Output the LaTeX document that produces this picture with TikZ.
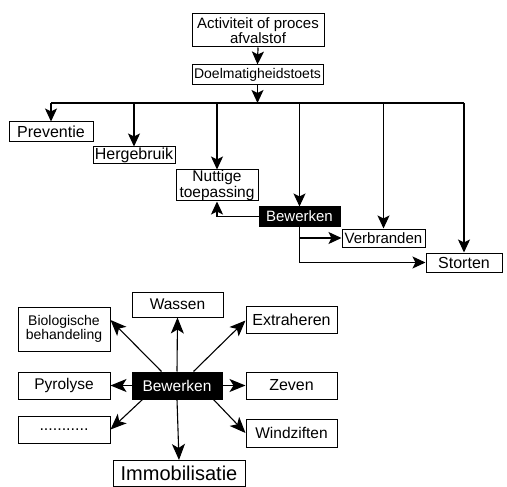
\documentclass[tikz,border=0pt]{standalone}
\usepackage{fontspec}
\setmainfont{Liberation Sans}
\usetikzlibrary{arrows.meta,calc}
\begin{document}
\begin{tikzpicture}[x=1pt,y=-1pt,
  box/.style={draw,line width=1pt,inner sep=0pt,align=center,minimum width=#1},
  dark/.style={fill=black,text=white},
  arr/.style={line width=1.2pt,-{Stealth[length=13pt,width=12pt,inset=3pt]}},
  arrb/.style={line width=1.1pt,-{Stealth[length=16pt,width=13pt,inset=4pt]}},
  ln/.style={line width=1.2pt},
  fs/.style={font=\fontsize{#1}{#1}\selectfont}]
\useasboundingbox (0,0) rectangle (507,487);
% top flow
\node[box=132,minimum height=33,fs=15] (act) at (258,30.5) {Activiteit of proces\\afvalstof};
\node[box=131,minimum height=20,fs=14] (doel) at (257.5,75) {Doelmatigheidstoets};
\node[box=84,minimum height=20,fs=16] (prev) at (51,132) {Preventie};
\node[box=82,minimum height=17,fs=16] (herg) at (134,155.5) {Hergebruik};
\node[box=82,minimum height=31,fs=15.5] (nut) at (217,185.5) {Nuttige\\toepassing};
\node[box=81,minimum height=19,fs=15,dark] (bew1) at (299.5,216.5) {Bewerken};
\node[box=83,minimum height=18,fs=15] (verb) at (383.5,238) {Verbranden};
\node[box=76,minimum height=19,fs=16] (stort) at (464,262.5) {Storten};
\coordinate (bus) at (258,103);
\draw[arr] (act.south) -- (doel.north);
\draw[arr] (doel.south) -- (doel.south |- bus);
\draw[ln] (prev.north |- bus) -- (stort.north |- bus);
\draw[arr] (prev.north |- bus) -- (prev.north);
\draw[arr] (herg.north |- bus) -- (herg.north);
\draw[arr] (nut.north |- bus) -- (nut.north);
\draw[arr] (bew1.north |- bus) -- (bew1.north);
\draw[arr] (verb.north |- bus) -- (verb.north);
\draw[arr] (stort.north |- bus) -- (stort.north);
\draw[arr] (bew1.west) -| (nut.south);
\draw[arr] (bew1.south) |- (verb.west);
\draw[arr] (bew1.south) |- (stort.west);
% bottom star
\node[box=91,minimum height=25,fs=15.5] (wassen) at (177.5,304.5) {Wassen};
\node[box=92,minimum height=44,fs=14] (bio) at (64,329) {Biologische\\behandeling};
\node[box=91,minimum height=27,fs=16] (extr) at (291.5,319.5) {Extraheren};
\node[box=92,minimum height=27,fs=15.5] (pyro) at (64,385.5) {Pyrolyse};
\node[box=90,minimum height=27,fs=15.5,dark] (bew2) at (177,385.5) {Bewerken};
\node[box=91,minimum height=27,fs=16] (zeven) at (291.5,385.5) {Zeven};
\node[box=92,minimum height=27,fs=16] (dots) at (64,429.5) {...........};
\node[box=91,minimum height=28,fs=15.5] (wind) at (291.5,433) {Windziften};
\node[box=132,minimum height=26,fs=20] (immo) at (179,473.5) {Immobilisatie};
\draw[arrb] (bew2.north) -- (wassen.south);
\draw[arrb] ($(bew2.north west)+(30,0)$) -- ($(bio.east)+(0,-9)$);
\draw[arrb] ($(bew2.north west)+(62,0)$) -- ($(extr.west)+(0,1)$);
\draw[arrb] (bew2.west) -- (pyro.east);
\draw[arrb] (bew2.east) -- (zeven.west);
\draw[arrb] ($(bew2.south west)+(11,0)$) -- (dots.east);
\draw[arrb] ($(bew2.south east)+(-9,0)$) -- (wind.west);
\draw[arrb] (bew2.south) -- (immo.north);
\end{tikzpicture}
\end{document}
